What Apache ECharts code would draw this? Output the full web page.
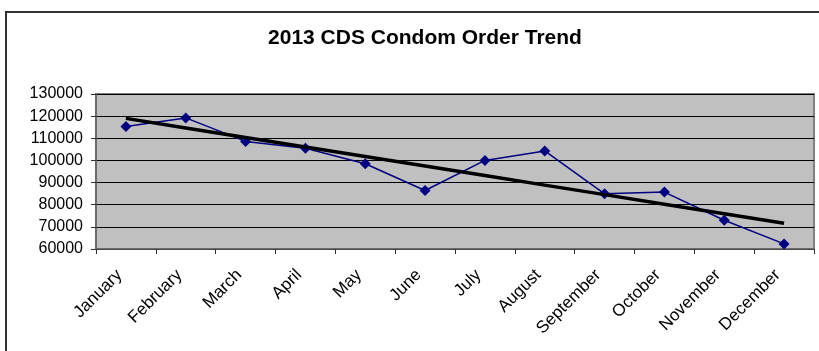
<!DOCTYPE html>
<html>
<head>
<meta charset="utf-8">
<script src="https://cdn.jsdelivr.net/npm/echarts@6/dist/echarts.min.js"></script>
<style>
  html, body { margin: 0; padding: 0; background: #ffffff; }
  #chart { width: 819px; height: 351px; }
</style>
</head>
<body>
<div id="chart"></div>
<script>
// Monthly order volumes for 2013
const months = ['January', 'February', 'March', 'April', 'May', 'June',
                'July', 'August', 'September', 'October', 'November', 'December'];
const orders = [115300, 119200, 108600, 105500, 98500, 86400,
                100000, 104300, 84900, 85700, 73000, 62300];
const yTicks = [60000, 70000, 80000, 90000, 100000, 110000, 120000, 130000];

// Least-squares linear trend through the monthly orders
function linearTrend(values) {
  const n = values.length;
  let sx = 0, sy = 0, sxy = 0, sxx = 0;
  values.forEach((y, i) => {
    const x = i + 1;
    sx += x; sy += y; sxy += x * y; sxx += x * x;
  });
  const slope = (n * sxy - sx * sy) / (n * sxx - sx * sx);
  const intercept = (sy - slope * sx) / n;
  return values.map((_, i) => intercept + slope * (i + 1));
}
const trend = linearTrend(orders);

const chart = echarts.init(document.getElementById('chart'), null, { renderer: 'canvas' });

chart.setOption({
  animation: false,
  backgroundColor: '#ffffff',
  textStyle: { fontFamily: '"Liberation Sans", Arial, sans-serif' },
  title: {
    text: '2013 CDS Condom Order Trend',
    left: 420,
    textAlign: 'center',
    top: 23,
    textStyle: {
      fontFamily: '"Liberation Sans", Arial, sans-serif',
      fontSize: 21,
      fontWeight: 'bold',
      color: '#000000'
    }
  },
  graphic: [{
    // chart-area frame
    type: 'rect',
    shape: { x: 6, y: 12, width: 840, height: 400 },
    style: { fill: 'none', stroke: '#333333', lineWidth: 2 },
    silent: true,
    z: -1
  }],
  grid: {
    left: 96,
    right: 5,
    top: 94,
    bottom: 102,
    show: true,
    backgroundColor: '#C0C0C0',
    borderColor: '#808080',
    borderWidth: 2
  },
  xAxis: {
    type: 'category',
    data: months,
    boundaryGap: true,
    axisLine: { lineStyle: { color: '#666666', width: 1.5 } },
    axisTick: { show: true, interval: 0, length: 5, lineStyle: { color: '#333333' } },
    axisLabel: {
      interval: 0,
      rotate: 45,
      fontSize: 17,
      color: '#000000',
      margin: 17,
      padding: [0, 9, 0, 0],
      fontFamily: '"Liberation Sans", Arial, sans-serif'
    },
    splitLine: { show: false }
  },
  yAxis: {
    type: 'value',
    min: yTicks[0],
    max: yTicks[yTicks.length - 1],
    interval: yTicks[1] - yTicks[0],
    axisLine: { show: true, lineStyle: { color: '#666666', width: 1.5 } },
    axisTick: { show: true, length: 5, lineStyle: { color: '#333333' } },
    axisLabel: {
      fontSize: 16,
      color: '#000000',
      margin: 13,
      fontFamily: '"Liberation Sans", Arial, sans-serif',
      formatter: v => String(v)
    },
    splitLine: { show: true, lineStyle: { color: '#000000', width: 1 } }
  },
  series: [
    {
      name: 'Orders',
      type: 'line',
      data: orders,
      symbol: 'diamond',
      symbolSize: 11,
      itemStyle: { color: '#000080' },
      lineStyle: { color: '#000080', width: 1.5 },
      z: 3
    },
    {
      name: 'Linear trend',
      type: 'line',
      data: trend,
      symbol: 'none',
      lineStyle: { color: '#000000', width: 3.5 },
      z: 4
    }
  ]
});
</script>
</body>
</html>
